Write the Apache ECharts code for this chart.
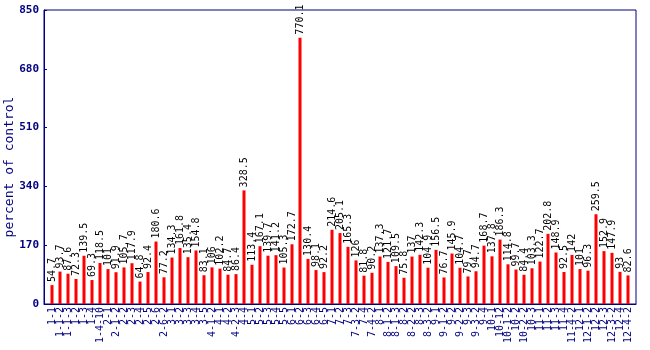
<!DOCTYPE html>
<html><head><meta charset="utf-8">
<script src="https://cdn.jsdelivr.net/npm/echarts@6/dist/echarts.min.js"></script>
<style>html,body{margin:0;padding:0;background:#fff}#c{width:650px;height:350px}</style>
</head><body><div id="c"></div>
<script>
const categories = ["1-1","1-1-2","1-1-3","1-2","1-3","1-4","1-4-10","2-1","2-1-2","2-2","2-3","2-4","2-5","2-6","2-6-2","3-1","3-2","3-3","3-4","3-5","4-1-2","4-1","4-2","4-2-3","4-4","5-1","5-2","5-3","5-4","5-5","6-1","6-2","6-3","6-4","6-5","7-1","7-2","7-3","7-3-2","7-4","7-4-2","8-1","8-1-2","8-1-3","8-2","8-2-2","8-3","8-3-2","9-1","9-1-2","9-2","9-2-2","9-3","9-3-2","9-4","10-1","10-12","10-1-2","10-2","10-2-2","10-3","11-1","11-2","11-3","11-4","11-4-2","12-1","12-1-2","12-2","12-3","12-3-2","12-4","12-4-2"];
const values = [54.7,93.7,87.6,72.3,139.5,69.3,118.5,101,91.9,105.7,117.9,64.8,92.4,180.6,77.2,134.3,161.8,135.4,154.8,83.1,106,102.2,84.7,86.4,328.5,113.4,167.1,139.7,141.2,105.3,172.7,770.1,130.4,98.1,92.2,214.6,205.1,165.3,126,81.8,90.2,137.3,121.7,109.5,75.8,137,142.3,104.9,156.5,76.7,145.9,104.7,79.7,94.7,168.7,137.8,186.3,114.8,99.7,84.4,103.3,122.7,202.8,148.9,92.5,142,101,96.3,259.5,152.9,147.9,93,82.6];
const yTicks = [0,170,340,510,680,850];
const yTitle = "percent of control";

const chart = echarts.init(document.getElementById('c'), null, {renderer:'canvas'});
const padCats = [''].concat(categories, ['']);
const padVals = ['-'].concat(values, ['-']);
const navy = '#000080';
chart.setOption({
  animation:false,
  grid:{left:44, right:14, top:10, bottom:46, containLabel:false, outerBoundsMode:'none',
    show:true, borderColor:navy, borderWidth:1, backgroundColor:'transparent'},
  xAxis:{type:'category', data:padCats, boundaryGap:false,
    axisLine:{lineStyle:{color:navy}}, axisTick:{show:false},
    axisLabel:{interval:0, rotate:90, color:navy, fontFamily:'DejaVu Sans Mono', fontSize:10, margin:3, hideOverlap:false}},
  yAxis:{type:'value', min:yTicks[0], max:yTicks[yTicks.length-1], interval:yTicks[1]-yTicks[0],
    name:yTitle, nameLocation:'middle', nameGap:28, nameRotate:90, nameMoveOverlap:false,
    nameTextStyle:{color:navy, fontFamily:'DejaVu Sans Mono', fontSize:13, padding:[0,20,0,0]},
    axisLine:{show:true, lineStyle:{color:navy}},
    axisTick:{show:true, inside:true, length:3, lineStyle:{color:navy}},
    splitLine:{show:false},
    axisLabel:{color:navy, fontFamily:'DejaVu Sans Mono', fontWeight:'bold', fontSize:11, margin:5}},
  series:[{type:'bar', data:padVals, barWidth:3, itemStyle:{color:'#ff0000'},
    label:{show:true, position:'top', rotate:90, align:'left', verticalAlign:'middle', distance:3,
      color:'#000', fontFamily:'DejaVu Sans Mono', fontSize:10}}]
});
</script></body></html>
